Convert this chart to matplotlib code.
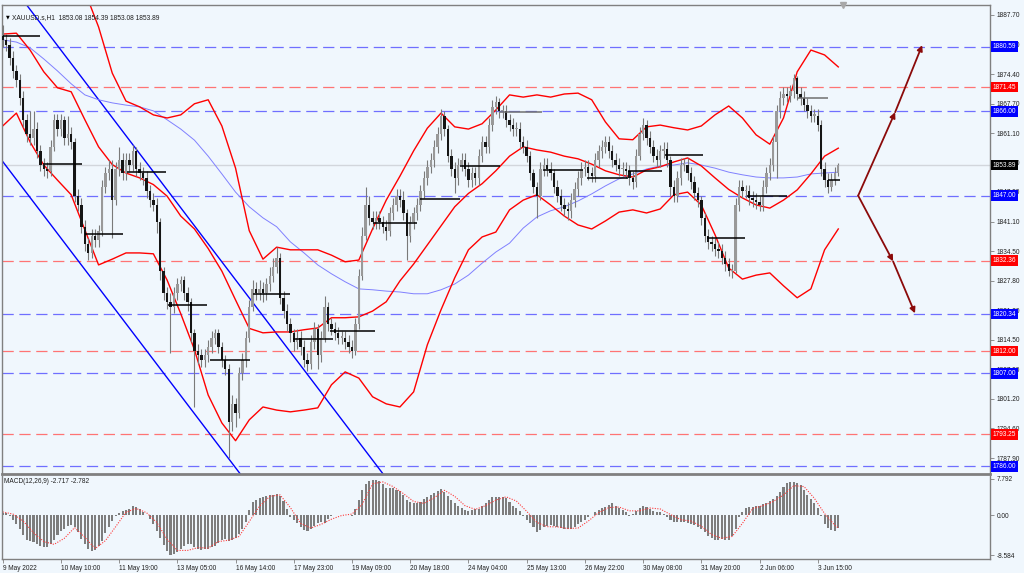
import matplotlib
matplotlib.use("Agg")
import matplotlib.pyplot as plt
import numpy as np
from matplotlib.transforms import blended_transform_factory

plt.rcParams['font.family'] = ['Liberation Sans', 'DejaVu Sans']

BG = "#f0f7fd"

# ---------------- price data (2-hour bars) ----------------
open0 = 1883.0
closes = [
    1882.0, 1881.0, 1878.0, 1875.0, 1873.0, 1869.0, 1864.0, 1861.0, 1860.0, 1862.0,
    1857.0, 1854.0, 1853.0, 1852.5, 1858.0, 1864.0, 1862.0, 1864.0, 1860.0, 1861.0,
    1859.0, 1847.0, 1845.0, 1840.0, 1836.0, 1834.0, 1838.0, 1837.0, 1839.0, 1849.0,
    1852.0, 1853.0, 1846.0, 1853.0, 1855.0, 1852.0, 1855.0, 1854.0, 1857.0, 1853.0,
    1852.0, 1851.0, 1848.0, 1846.0, 1845.0, 1841.0, 1830.0, 1825.0, 1823.0, 1822.0,
    1825.0, 1827.0, 1828.0, 1825.0, 1823.0, 1816.0, 1812.0, 1811.0, 1810.0, 1811.0,
    1813.0, 1815.0, 1816.0, 1813.0, 1810.0, 1808.0, 1796.0, 1800.0, 1798.0, 1807.0,
    1810.0, 1815.0, 1822.0, 1826.0, 1825.0, 1826.0, 1825.0, 1827.0, 1829.0, 1831.0,
    1833.0, 1824.0, 1821.0, 1818.0, 1816.0, 1814.0, 1815.0, 1813.0, 1810.0, 1809.0,
    1814.0, 1817.0, 1811.0, 1815.0, 1822.0, 1818.0, 1817.0, 1816.0, 1815.0, 1815.0,
    1814.0, 1813.0, 1812.0, 1818.0, 1829.0, 1838.0, 1845.0, 1842.0, 1841.0, 1842.0,
    1841.0, 1840.0, 1839.0, 1843.0, 1845.0, 1847.0, 1846.0, 1843.0, 1838.0, 1841.0,
    1843.0, 1845.0, 1848.0, 1851.0, 1853.5, 1855.0, 1858.0, 1861.0, 1865.0, 1862.0,
    1856.0, 1853.0, 1851.0, 1854.0, 1855.0, 1853.0, 1850.5, 1852.0, 1851.0, 1856.0,
    1859.0, 1858.0, 1863.0, 1867.0, 1868.0, 1866.0, 1866.0, 1864.0, 1863.0, 1862.0,
    1862.0, 1859.0, 1858.0, 1856.0, 1852.0, 1849.0, 1847.0, 1853.0, 1854.0, 1853.0,
    1852.0, 1849.0, 1847.0, 1845.0, 1844.0, 1843.5, 1846.0, 1848.5, 1851.0, 1853.0,
    1853.5, 1852.0, 1851.5, 1855.0, 1857.0, 1858.0, 1859.0, 1857.0, 1855.0, 1854.0,
    1853.0, 1853.0, 1852.5, 1851.0, 1850.0, 1856.0, 1861.0, 1863.0, 1860.0, 1858.0,
    1856.0, 1855.0, 1857.0, 1857.5, 1855.0, 1849.0, 1847.0, 1851.0, 1854.0, 1854.0,
    1852.0, 1850.0, 1847.5, 1846.0, 1842.0, 1838.0, 1836.5, 1836.0, 1835.0, 1834.5,
    1833.0, 1831.5, 1830.0, 1830.0, 1845.0, 1849.0, 1848.0, 1848.0, 1846.5, 1846.0,
    1845.5, 1845.0, 1849.0, 1852.0, 1854.0, 1859.0, 1866.0, 1869.0, 1870.0, 1869.5,
    1870.5, 1873.5, 1870.0, 1869.0, 1867.5, 1866.0, 1865.0, 1865.0, 1863.0, 1853.0,
    1850.5, 1849.0, 1850.5, 1852.0, 1853.89]
highs = [
    1885.5, 1883.5, 1882.5, 1879.5, 1876.5, 1874.5, 1870.5, 1865.5, 1866.0, 1866.0,
    1863.5, 1858.5, 1855.5, 1854.5, 1859.5, 1865.5, 1865.5, 1865.5, 1865.0, 1865.0,
    1862.5, 1860.0, 1848.5, 1846.5, 1841.5, 1837.5, 1839.5, 1839.5, 1840.5, 1850.5,
    1853.5, 1855.0, 1855.0, 1854.5, 1858.0, 1856.5, 1856.5, 1856.5, 1858.5, 1858.0,
    1854.5, 1853.5, 1852.5, 1849.5, 1847.5, 1846.5, 1842.0, 1831.0, 1826.5, 1825.0,
    1826.5, 1828.5, 1829.0, 1829.0, 1826.5, 1824.0, 1817.0, 1813.5, 1812.5, 1812.5,
    1814.5, 1816.5, 1817.0, 1817.0, 1814.0, 1811.0, 1809.0, 1802.0, 1801.5, 1808.5,
    1811.5, 1816.5, 1823.5, 1828.0, 1827.5, 1828.0, 1827.5, 1828.5, 1831.0, 1833.0,
    1835.5, 1834.0, 1825.5, 1822.5, 1819.5, 1817.0, 1817.0, 1816.5, 1814.5, 1811.5,
    1815.5, 1818.5, 1818.0, 1816.5, 1824.5, 1823.0, 1819.5, 1818.5, 1817.5, 1816.5,
    1816.5, 1815.5, 1814.5, 1819.5, 1830.5, 1840.0, 1849.0, 1847.0, 1843.5, 1843.5,
    1843.5, 1842.5, 1841.5, 1844.5, 1846.5, 1848.5, 1848.5, 1848.0, 1844.0, 1842.5,
    1844.5, 1846.5, 1849.5, 1852.5, 1855.0, 1856.5, 1859.5, 1862.5, 1866.5, 1866.0,
    1863.0, 1857.5, 1854.5, 1855.5, 1856.5, 1856.5, 1854.5, 1853.5, 1853.5, 1857.5,
    1860.5, 1860.5, 1864.5, 1868.5, 1869.5, 1869.0, 1867.5, 1867.5, 1865.5, 1864.5,
    1863.5, 1863.5, 1860.5, 1859.5, 1857.0, 1853.0, 1850.0, 1854.5, 1855.5, 1855.5,
    1854.5, 1853.0, 1850.5, 1848.5, 1846.5, 1845.5, 1847.5, 1850.0, 1852.5, 1854.5,
    1855.0, 1855.0, 1853.5, 1856.5, 1858.5, 1859.5, 1860.5, 1860.5, 1858.5, 1856.5,
    1855.5, 1854.5, 1854.5, 1854.0, 1852.5, 1857.5, 1862.5, 1864.5, 1864.0, 1861.5,
    1859.5, 1857.5, 1858.5, 1859.0, 1859.0, 1856.0, 1850.5, 1852.5, 1855.5, 1855.5,
    1855.5, 1853.5, 1851.5, 1849.0, 1847.0, 1843.0, 1839.5, 1838.0, 1837.5, 1836.5,
    1836.0, 1834.5, 1833.0, 1831.5, 1846.5, 1850.5, 1850.5, 1849.5, 1849.5, 1848.0,
    1847.5, 1847.0, 1850.5, 1853.5, 1855.5, 1860.5, 1867.5, 1870.5, 1871.5, 1871.5,
    1872.0, 1874.5, 1874.0, 1871.5, 1870.5, 1869.0, 1867.5, 1866.5, 1866.5, 1864.0,
    1854.5, 1852.0, 1852.0, 1853.5, 1854.39]
lows = [
    1880.5, 1879.5, 1876.5, 1873.5, 1871.5, 1867.5, 1862.5, 1859.0, 1858.5, 1858.5,
    1855.5, 1852.5, 1851.5, 1851.0, 1851.5, 1857.0, 1860.5, 1860.5, 1858.5, 1858.5,
    1857.5, 1845.5, 1843.5, 1838.5, 1834.5, 1832.5, 1833.0, 1835.5, 1835.5, 1838.0,
    1847.5, 1850.5, 1837.5, 1845.0, 1851.5, 1850.5, 1850.5, 1852.5, 1852.5, 1851.5,
    1850.5, 1849.5, 1846.5, 1844.5, 1843.5, 1838.5, 1828.0, 1823.5, 1821.5, 1811.5,
    1820.5, 1823.5, 1825.5, 1823.5, 1821.0, 1814.0, 1799.5, 1809.0, 1808.5, 1808.5,
    1809.5, 1811.5, 1813.5, 1811.5, 1808.5, 1806.5, 1788.0, 1794.0, 1795.0, 1797.0,
    1805.5, 1808.5, 1814.0, 1821.0, 1823.5, 1823.5, 1823.0, 1823.5, 1825.5, 1827.5,
    1829.5, 1822.5, 1819.5, 1816.5, 1814.0, 1812.0, 1812.5, 1811.0, 1808.5, 1807.5,
    1808.0, 1812.5, 1808.0, 1809.5, 1814.0, 1816.5, 1815.5, 1814.5, 1813.5, 1813.5,
    1812.5, 1811.5, 1810.5, 1811.0, 1817.0, 1828.0, 1837.0, 1840.5, 1839.5, 1839.5,
    1839.5, 1838.5, 1837.0, 1838.0, 1841.5, 1843.5, 1844.5, 1841.5, 1832.5, 1836.5,
    1839.5, 1841.5, 1843.5, 1846.5, 1849.5, 1852.0, 1853.5, 1856.5, 1859.5, 1860.5,
    1854.5, 1851.5, 1847.5, 1849.5, 1852.5, 1851.5, 1849.0, 1849.0, 1849.5, 1849.5,
    1854.5, 1856.5, 1856.5, 1861.5, 1865.5, 1864.5, 1864.5, 1862.5, 1861.5, 1860.5,
    1860.5, 1857.5, 1856.5, 1854.5, 1850.5, 1847.5, 1842.0, 1846.0, 1851.5, 1851.5,
    1850.5, 1847.5, 1845.5, 1843.5, 1842.5, 1841.5, 1842.0, 1844.5, 1847.0, 1849.5,
    1851.5, 1850.5, 1850.0, 1850.0, 1853.5, 1855.5, 1856.5, 1855.5, 1853.5, 1852.5,
    1851.5, 1851.5, 1851.0, 1849.5, 1848.5, 1849.0, 1855.0, 1859.5, 1858.5, 1856.5,
    1854.5, 1853.5, 1853.5, 1855.5, 1853.5, 1847.0, 1845.5, 1845.5, 1849.5, 1852.5,
    1850.5, 1848.5, 1846.0, 1844.5, 1840.5, 1836.5, 1835.0, 1834.5, 1833.5, 1833.0,
    1831.5, 1830.0, 1829.0, 1828.5, 1829.5, 1843.5, 1846.5, 1846.5, 1845.0, 1844.5,
    1844.0, 1843.5, 1843.5, 1847.5, 1850.5, 1852.5, 1851.0, 1864.5, 1867.5, 1868.0,
    1868.0, 1869.0, 1868.5, 1867.5, 1866.0, 1864.5, 1863.5, 1863.5, 1861.5, 1851.5,
    1849.0, 1847.5, 1848.0, 1849.5, 1851.5]

# ---------------- indicator lines (sampled every 4 bars) ----------------
band_step = 4
bb_upper = [
    1904.0, 1905.0, 1905.0, 1904.0, 1901.0, 1897.0, 1893.0,
    1885.0, 1874.6, 1868.3, 1867.0, 1865.2, 1864.5, 1865.2, 1867.7, 1868.6, 1862.7,
    1853.2, 1839.1, 1832.7, 1835.4, 1834.8, 1834.8, 1834.8, 1833.6, 1832.1, 1832.5,
    1839.5, 1846.0, 1851.4, 1857.1, 1862.2, 1865.6, 1862.5, 1862.0, 1863.2, 1866.3,
    1869.7, 1869.2, 1869.7, 1869.2, 1869.9, 1870.1, 1868.6, 1863.6, 1859.8, 1859.6,
    1862.5, 1862.9, 1862.3, 1861.8, 1862.7, 1865.2, 1867.2, 1864.5, 1860.7, 1858.6,
    1864.5, 1874.9, 1879.8, 1878.7, 1876.0]
bb_mid = [
    1883.4, 1883.6, 1879.8, 1874.9, 1871.3, 1870.4, 1864.1, 1858.0, 1854.0, 1852.1,
    1851.0, 1849.5, 1846.9, 1842.4, 1839.5, 1835.1, 1830.0, 1823.5, 1817.1, 1816.1,
    1816.3, 1816.3, 1816.8, 1817.2, 1819.5, 1819.5, 1819.7, 1821.0, 1823.1, 1827.8,
    1831.6, 1835.9, 1840.2, 1844.5, 1847.5, 1849.7, 1852.6, 1855.9, 1858.0, 1857.3,
    1856.8, 1855.9, 1855.3, 1854.1, 1852.6, 1851.7, 1851.2, 1852.8, 1853.5, 1854.6,
    1855.5, 1853.7, 1851.0, 1848.4, 1846.5, 1844.9, 1844.2, 1846.0, 1848.3, 1851.9,
    1855.9, 1857.7]
bb_lower = [
    1862.7, 1865.6, 1859.1, 1853.9, 1850.5, 1847.2, 1839.3, 1831.4, 1832.7, 1834.1,
    1834.1, 1833.9, 1828.0, 1820.4, 1812.3, 1802.1, 1795.8, 1791.8, 1796.5, 1799.4,
    1798.7, 1798.3, 1798.7, 1799.2, 1804.4, 1807.3, 1805.9, 1801.7, 1800.1, 1799.4,
    1802.8, 1813.4, 1821.3, 1828.5, 1834.8, 1837.7, 1838.8, 1843.8, 1846.0, 1847.2,
    1844.9, 1842.4, 1840.4, 1839.5, 1841.3, 1843.3, 1843.8, 1843.1, 1844.0, 1847.2,
    1847.8, 1844.9, 1838.2, 1830.7, 1828.2, 1829.1, 1829.6, 1826.7, 1824.0, 1826.0,
    1834.8, 1839.5]
ma_line = [
    1882.1, 1881.6, 1880.3, 1877.8, 1875.1, 1872.2, 1869.7, 1868.6, 1867.9, 1867.4,
    1867.0, 1866.1, 1864.1, 1862.0, 1859.5, 1855.9, 1851.9, 1847.8, 1844.5, 1842.0,
    1840.0, 1836.6, 1834.1, 1831.4, 1829.4, 1827.6, 1826.0, 1825.8, 1825.5, 1825.3,
    1824.9, 1824.9, 1825.8, 1827.1, 1829.1, 1831.8, 1834.3, 1836.3, 1839.7, 1842.2,
    1843.6, 1844.5, 1845.8, 1847.4, 1849.2, 1850.8, 1851.9, 1853.0, 1853.7, 1853.9,
    1854.4, 1853.9, 1853.2, 1852.3, 1851.7, 1851.2, 1851.0, 1851.0, 1851.2, 1851.9,
    1852.1, 1852.3]

# ---------------- MACD ----------------
macd_hist = [
    0.35, 0.35, -0.3, -1.1, -1.9, -3.1, -4.3, -5.3, -5.6, -5.8,
    -6.2, -6.6, -6.8, -6.9, -6.2, -5.4, -4.3, -3.5, -2.9, -2.4,
    -2.1, -2.6, -3.6, -5.1, -6.3, -7.4, -7.8, -7.5, -6.7, -5.5,
    -3.9, -2.6, -1.3, -0.3, 0.45, 0.85, 1.1, 1.35, 2.0, 1.8,
    1.3, 0.7, 0.0, -0.9, -1.9, -3.4, -4.9, -6.4, -7.8, -8.5,
    -8.4, -7.9, -7.2, -6.7, -6.3, -6.3, -6.9, -7.3, -7.5, -7.4,
    -7.2, -6.9, -6.6, -6.1, -5.3, -5.2, -5.6, -5.4, -5.0, -4.1,
    -3.1, -1.6, 1.0, 2.8, 3.3, 3.7, 3.9, 4.1, 4.2, 4.3,
    4.45, 4.0, 2.9, 1.2, -0.4, -1.1, -1.8, -2.6, -3.2, -3.4,
    -3.0, -2.3, -1.7, -1.5, -1.8, -0.9, -0.3, -0.1, 0.05, 0.05,
    0.0, -0.1, -0.3, 1.2, 3.3, 5.4, 6.7, 7.3, 7.6, 7.5,
    7.4, 6.6, 5.9, 5.7, 5.7, 5.4, 5.2, 4.2, 3.3, 2.8,
    2.5, 2.6, 2.8, 3.4, 3.9, 4.3, 4.7, 5.1, 5.6, 5.0,
    4.1, 3.3, 2.6, 2.0, 1.6, 1.1, 0.9, 1.05, 1.2, 1.35,
    1.9, 2.6, 3.2, 3.8, 3.9, 3.9, 3.8, 3.65, 2.8, 1.9,
    1.5, 0.9, -0.3, -1.0, -1.7, -2.5, -3.7, -3.2, -2.6, -2.3,
    -2.1, -2.3, -2.6, -2.8, -3.0, -3.1, -2.9, -2.6, -2.0, -1.5,
    -1.0, -0.5, 0.1, 0.7, 1.05, 1.4, 1.75, 2.1, 2.5, 1.9,
    1.4, 1.0, 0.6, -0.2, 0.2, 0.9, 1.6, 2.0, 1.7, 1.3,
    0.9, 0.65, 0.55, 0.2, -0.5, -1.1, -1.4, -1.4, -1.4, -1.5,
    -1.7, -1.9, -2.1, -2.5, -3.1, -3.7, -4.4, -5.0, -5.4, -5.3,
    -5.2, -5.3, -5.4, -4.6, -3.0, -0.4, 0.6, 1.45, 1.65, 1.8,
    1.85, 1.95, 2.3, 2.6, 3.0, 3.4, 4.1, 4.9, 6.1, 6.9,
    7.0, 7.1, 6.9, 6.4, 5.3, 4.4, 3.5, 2.5, 1.5, -0.3,
    -1.9, -2.7, -3.2, -3.4, -2.717]
macd_signal = [
    0.65, 0.2, -1.3, -3.8, -5.7, -6.3, -5.0, -2.7, -4.8, -7.2,
    -5.5, -2.5, 0.6, 1.4, 0.5, -1.6, -5.2, -7.6, -7.6, -7.0,
    -7.1, -5.7, -5.4, -4.6, -1.4, 1.9, 4.0, 4.3, 1.6, -1.8,
    -2.8, -2.0, -0.9, -0.1, 0.2, 2.3, 6.7, 7.1, 6.1, 4.6,
    2.9, 2.5, 3.7, 5.3, 4.0, 2.0, 1.2, 2.0, 3.2, 3.9,
    3.0, 0.8, -1.6, -2.5, -2.55, -2.9, -2.8, -1.3, 0.5, 1.6,
    1.7, 0.9, 0.9, 1.5, 1.3, 0.1, -1.0, -1.3, -2.4, -4.2,
    -5.0, -4.6, -1.8, 1.4, 2.0, 2.9, 4.3, 6.3, 6.1, 3.6,
    0.3, -2.2, -2.782]
signal_step = 3

# ---------------- levels / objects ----------------
levels_blue = [1880.59, 1866.00, 1847.00, 1820.34, 1807.00, 1786.00]
levels_red = [1871.45, 1832.36, 1812.00, 1793.25]
last_price = 1853.89

seg_start = [0, 11.8, 24, 36.3, 48.3, 60.5, 73.1, 84.8, 95.6, 108.1, 121.9, 133.6, 145.2,
             157.8, 170.6, 182.6, 193.4, 205.7, 217.4, 232, 241]
seg_end = [11, 23.2, 35.1, 47.7, 59.7, 72.2, 83.9, 96.5, 108.7, 121.0, 133.6, 145.2, 157.5,
           169.5, 182.6, 192.6, 204.5, 216.8, 229.1, 241, 244.5]
seg_level = [1883.0, 1854.1, 1838.4, 1852.3, 1822.4, 1810.0, 1824.9, 1814.7, 1816.5, 1840.8,
             1846.3, 1853.7, 1865.9, 1852.8, 1851.0, 1852.6, 1856.2, 1837.5, 1846.9, 1869.0,
             1850.5]
seg_gray = [12, 19]

channel_upper = [(10.3, 1886.6), (110.2, 1785.2)]
channel_lower = [(-0.3, 1855.0), (68.7, 1785.0)]

arrow_up = [(249.8, 1847.0), (260.6, 1865.8), (268.5, 1880.9)]
arrow_dn = [(249.8, 1847.0), (260.0, 1832.2), (266.4, 1820.5)]

price_ticks = [1887.70, 1881.00, 1874.40, 1867.70, 1861.10, 1854.40, 1847.90, 1841.10,
               1834.50, 1827.80, 1821.20, 1814.50, 1807.90, 1801.20, 1794.60, 1787.90]
time_labels = ["9 May 2022", "10 May 10:00", "11 May 19:00", "13 May 05:00", "16 May 14:00",
               "17 May 23:00", "19 May 09:00", "20 May 18:00", "24 May 04:00", "25 May 13:00",
               "26 May 22:00", "30 May 08:00", "31 May 20:00", "2 Jun 06:00", "3 Jun 15:00"]
bars_per_label = 17

# ---------------- figure ----------------
fig = plt.figure(figsize=(10.24, 5.73), dpi=100, facecolor=BG)
ax = fig.add_axes([2 / 1024, 99 / 573, 988 / 1024, 469 / 573])
axm = fig.add_axes([2 / 1024, 14 / 573, 988 / 1024, 83 / 573])
for a in (ax, axm):
    a.set_facecolor(BG)
    a.set_xlim(-0.2, 288.3)

ax.set_ylim(1784.3, 1889.95)

n = len(closes)
idx = np.arange(n)
c = np.array(closes)
o = np.array([open0] + closes[:-1])
h = np.array(highs)
l = np.array(lows)

# horizontal levels
for lv in levels_blue:
    ax.axhline(lv, color="#6f6fff", lw=0.9, dashes=(9, 4.5), zorder=1)
for lv in levels_red:
    ax.axhline(lv, color="#ff7474", lw=0.9, dashes=(9, 4.5), zorder=1)
ax.axhline(last_price, color="#d2d6dc", lw=1.0, zorder=1)

# channel
ax.axline(channel_upper[0], channel_upper[1], color="#0000ff", lw=1.0, zorder=2)
ax.axline(channel_lower[0], channel_lower[1], color="#0000ff", lw=1.0, zorder=2)

# indicators
bidx = np.arange(0, n, band_step)
ax.plot(bidx, ma_line, color="#8080ff", lw=0.7, zorder=2)
ax.plot(bidx, bb_upper, color="#ff0000", lw=1.0, zorder=2)
ax.plot(bidx, bb_mid, color="#ff0000", lw=1.0, zorder=2)
ax.plot(bidx, bb_lower, color="#ff0000", lw=1.0, zorder=2)

# candles
ax.vlines(idx, l, h, color="#7a7a7a", lw=0.8, zorder=3)
up = c >= o
body = np.where(np.abs(c - o) < 0.3, 0.3, c - o)
ax.bar(idx[up], body[up], bottom=o[up], width=0.7, color="#999999", lw=0, zorder=4)
ax.bar(idx[~up], body[~up], bottom=o[~up], width=0.7, color="#151515", lw=0, zorder=4)

# daily segments
for k, (s, e, lv) in enumerate(zip(seg_start, seg_end, seg_level)):
    col = "#707070" if k in seg_gray else "#000000"
    ax.hlines(lv, s, e, color=col, lw=1.1, zorder=5)

# arrows
for path in (arrow_up, arrow_dn):
    for p0, p1 in zip(path[:-1], path[1:]):
        ax.annotate("", xy=p1, xytext=p0,
                    arrowprops=dict(arrowstyle="-|>", color="#8b0a0a", lw=1.3,
                                    mutation_scale=8, shrinkA=0, shrinkB=0), zorder=6)

# right axis of main chart
ax.yaxis.tick_right()
ax.set_yticks(price_ticks)
ax.set_yticklabels([f"{v:.2f}" for v in price_ticks])
ax.tick_params(axis="y", direction="out", length=3, width=0.6, color="#808080",
               labelcolor="#202020", labelsize=4.7, pad=2)
ax.set_xticks([])

trans = blended_transform_factory(ax.transAxes, ax.transData)
for lv in levels_blue:
    ax.text(1.003, lv, f"{lv:.2f}", transform=trans, fontsize=4.7, color="white",
            va="center", ha="left", clip_on=False, zorder=10,
            bbox=dict(facecolor="#0000ff", edgecolor="none", pad=1.3))
for lv in levels_red:
    ax.text(1.003, lv, f"{lv:.2f}", transform=trans, fontsize=4.7, color="white",
            va="center", ha="left", clip_on=False, zorder=10,
            bbox=dict(facecolor="#ff0000", edgecolor="none", pad=1.3))
ax.text(1.003, last_price, f"{last_price:.2f}", transform=trans, fontsize=4.7, color="white",
        va="center", ha="left", clip_on=False, zorder=10,
        bbox=dict(facecolor="#000000", edgecolor="none", pad=1.3))

# header
ax.text(0.004, 0.974, "\u25BC", transform=ax.transAxes, fontsize=3.5, color="#000000",
        va="center", ha="left", family="DejaVu Sans")
ax.text(0.0105, 0.974, "XAUUSD.s,H1  1853.08 1854.39 1853.08 1853.89", transform=ax.transAxes,
        fontsize=4.8, color="#202020", va="center", ha="left")
ax.plot([n + 0.5], [1889.95], marker="v", color="#a8a8a8", ms=5, clip_on=False, zorder=10)

# spines
for a in (ax, axm):
    for sp in a.spines.values():
        sp.set_color("#808080")
        sp.set_linewidth(1.0)
ax.spines["bottom"].set_linewidth(2.0)
axm.spines["top"].set_visible(False)

# ---------------- MACD panel ----------------
axm.set_ylim(-9.44, 8.37)
axm.bar(idx, macd_hist, width=0.6, color="#7d7d7d", lw=0)
sidx = list(range(0, n - 1, signal_step)) + [n - 1]
axm.plot(sidx, macd_signal, color="#ff3a3a", lw=0.8, linestyle=(0, (1, 1.3)))
axm.yaxis.tick_right()
axm.set_yticks([7.792, 0.0, -8.584])
axm.set_yticklabels(["7.792", "0.00", "-8.584"])
axm.tick_params(axis="y", direction="out", length=3, width=0.6, color="#808080",
                labelcolor="#202020", labelsize=4.7, pad=2)
tpos = [k * bars_per_label for k in range(len(time_labels))]
axm.set_xticks(tpos)
axm.set_xticklabels(time_labels)
for lbl in axm.get_xticklabels():
    lbl.set_ha("left")
axm.tick_params(axis="x", direction="out", length=3, width=0.6, color="#808080",
                labelcolor="#202020", labelsize=4.7, pad=1.0)
axm.text(0.002, 0.93, "MACD(12,26,9) -2.717 -2.782", transform=axm.transAxes,
         fontsize=4.7, color="#202020", va="center", ha="left")

fig.savefig("out.png", dpi=100, facecolor=BG)
